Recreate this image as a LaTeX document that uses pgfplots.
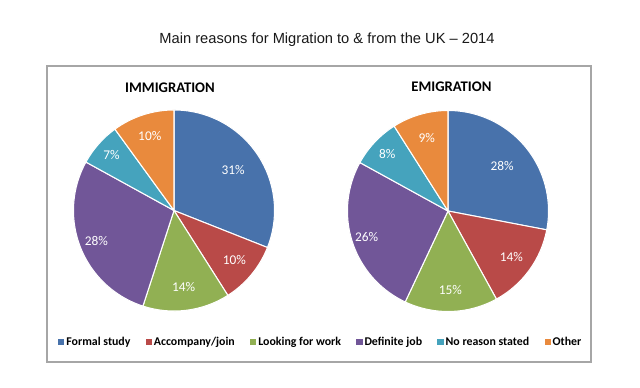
\documentclass[border=0pt]{standalone}
\usepackage{pgfplots}
\usepackage{pgfplotstable}
\pgfplotsset{compat=1.18}
\usepackage{fontspec}
\setmainfont{Liberation Sans}
\newfontfamily\carlito{Carlito}

\definecolor{cA}{HTML}{4872AB}
\definecolor{cB}{HTML}{B94A48}
\definecolor{cC}{HTML}{91B053}
\definecolor{cD}{HTML}{715698}
\definecolor{cE}{HTML}{45A3BD}
\definecolor{cF}{HTML}{E98A3D}

% share of each reason (percent), label distance (fraction of radius), colour
\pgfplotstableread{
reason value lr col
Formal 31 0.71 cA
Accompany 10 0.78 cB
Work 14 0.77 cC
Job 28 0.83 cD
None 7 0.83 cE
Other 10 0.78 cF
}\immtable

\pgfplotstableread{
reason value lr col
Formal 28 0.70 cA
Accompany 14 0.78 cB
Work 15 0.79 cC
Job 26 0.85 cD
None 8 0.83 cE
Other 9 0.76 cF
}\emitable

\newcommand{\pierad}{75.4pt}
\tikzset{pielabel/.style={font=\carlito\fontsize{10}{12}\selectfont, text=white}}

\newcommand{\drawpie}[1]{%
  \pgfmathsetmacro{\pieCum}{0}%
  \pgfplotstablegetrowsof{#1}%
  \pgfmathtruncatemacro{\pieN}{\pgfplotsretval-1}%
  \pgfplotsforeachungrouped \pieI in {0,...,\pieN}{%
    \pgfplotstablegetelem{\pieI}{value}\of{#1}\let\pieV\pgfplotsretval
    \pgfplotstablegetelem{\pieI}{lr}\of{#1}\let\pieR\pgfplotsretval
    \pgfplotstablegetelem{\pieI}{col}\of{#1}\let\pieC\pgfplotsretval
    \pgfmathsetmacro{\pieA}{90-3.6*\pieCum}%
    \pgfmathsetmacro{\pieB}{90-3.6*(\pieCum+\pieV)}%
    \pgfmathsetmacro{\pieM}{(\pieA+\pieB)/2}%
    \pgfmathsetmacro{\pieCum}{\pieCum+\pieV}%
    \edef\pieTemp{%
      \noexpand\fill[\pieC, draw=white, line width=0.8pt, line join=round]
        (axis cs:0,0) -- (axis cs:{cos(\pieA)},{sin(\pieA)})
        arc[start angle=\pieA, end angle=\pieB, radius=\pierad] -- cycle;
      \noexpand\node[pielabel] at (axis cs:{\pieR*cos(\pieM)},{\pieR*sin(\pieM)}) {\pieV\noexpand\%};
    }%
    \pieTemp
  }%
}

\pgfplotsset{
  pieaxis/.style={
    anchor=center, scale only axis, width=150.8pt, height=150.8pt,
    xmin=-1, xmax=1, ymin=-1, ymax=1, hide axis, clip=false,
  },
}

\begin{document}
\begin{tikzpicture}
\useasboundingbox (0,0) rectangle (480pt,290.25pt);
\fill[white] (0,0) rectangle (480pt,290.25pt);
\draw[color=black!35, line width=1pt] (35.25pt,18.75pt) rectangle (443.25pt,240.75pt);
\node[font=\fontsize{11}{13}\selectfont, text=black!90] at (245.25pt,260.25pt) {Main reasons for Migration to \& from the UK – 2014};
\node[font=\carlito\bfseries\fontsize{11}{13}\selectfont] at (127.5pt,224.25pt) {IMMIGRATION};
\node[font=\carlito\bfseries\fontsize{11}{13}\selectfont] at (338.6pt,225pt) {EMIGRATION};

\begin{axis}[pieaxis, at={(130.5pt,132.375pt)},
  legend columns=6,
  legend image code/.code={\fill[#1] (0pt,-2.3pt) rectangle (4.6pt,2.3pt);},
  legend style={at={(-0.077,-0.154)}, anchor=west, draw=none, fill=none,
    inner sep=0pt, font=\carlito\bfseries\fontsize{8.9}{10}\selectfont,
    nodes={inner sep=1.5pt},
    /tikz/every even column/.append style={column sep=10pt}},
]
\drawpie{\immtable}
\addlegendimage{fill=cA, draw=none}\addlegendentry{Formal study}
\addlegendimage{fill=cB, draw=none}\addlegendentry{Accompany/join}
\addlegendimage{fill=cC, draw=none}\addlegendentry{Looking for work}
\addlegendimage{fill=cD, draw=none}\addlegendentry{Definite job}
\addlegendimage{fill=cE, draw=none}\addlegendentry{No reason stated}
\addlegendimage{fill=cF, draw=none}\addlegendentry{Other}
\end{axis}

\begin{axis}[pieaxis, at={(336pt,132pt)}]
\drawpie{\emitable}
\end{axis}
\end{tikzpicture}
\end{document}
